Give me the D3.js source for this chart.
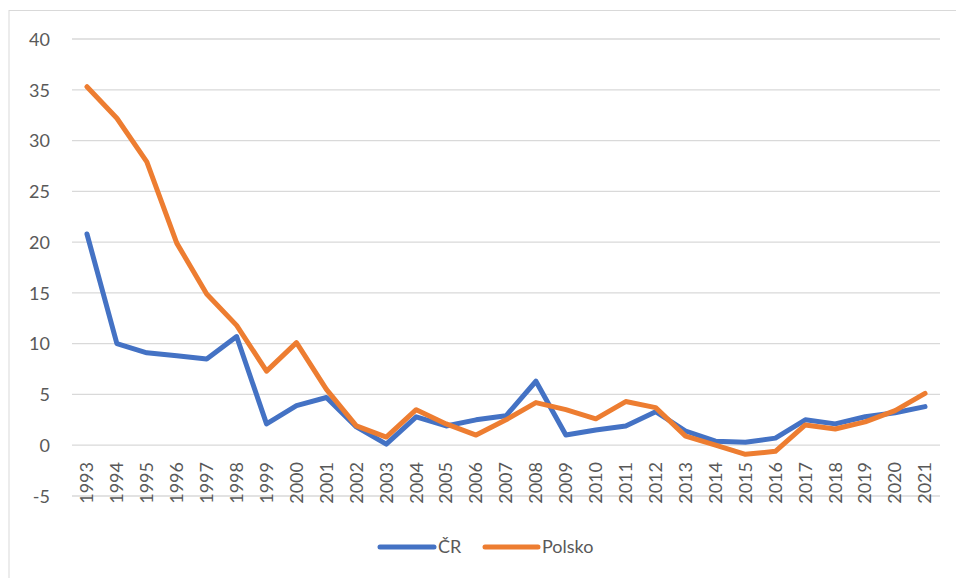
<!DOCTYPE html>
<html><head><meta charset="utf-8">
<script src="https://cdn.jsdelivr.net/npm/d3@7/dist/d3.min.js"></script>
<style>body{margin:0;background:#fff;} svg{display:block;}</style>
</head><body>
<script>
const years = ["1993","1994","1995","1996","1997","1998","1999","2000","2001","2002","2003","2004","2005","2006","2007","2008","2009","2010","2011","2012","2013","2014","2015","2016","2017","2018","2019","2020","2021"];
const cr = [20.8,10.0,9.1,8.8,8.5,10.7,2.1,3.9,4.7,1.8,0.1,2.8,1.9,2.5,2.9,6.3,1.0,1.5,1.9,3.3,1.4,0.4,0.3,0.7,2.5,2.1,2.8,3.2,3.8];
const polsko = [35.3,32.2,27.9,19.9,14.9,11.8,7.3,10.1,5.5,1.9,0.8,3.5,2.1,1.0,2.5,4.2,3.5,2.6,4.3,3.7,0.9,0.0,-0.9,-0.6,2.0,1.6,2.3,3.4,5.1];
const yTicks = [-5,0,5,10,15,20,25,30,35,40];
const seriesNames = ["ČR","Polsko"];
const colors = ["#4472C4","#ED7D31"];

const W = 956, H = 578;
const svg = d3.select("body").append("svg").attr("width", W).attr("height", H);
const font = "Lato, 'Open Sans', sans-serif";

svg.append("rect").attr("x",9).attr("y",10.5).attr("width",W).attr("height",H).attr("fill","none").attr("stroke","#d9d9d9").attr("stroke-width",1);

const x = d3.scaleBand().domain(years).range([72, 940]);
const y = d3.scaleLinear().domain([-5, 40]).range([496, 39]);

svg.append("g").selectAll("line").data(yTicks).join("line")
  .attr("x1", 72).attr("x2", 940)
  .attr("y1", d => y(d)).attr("y2", d => y(d))
  .attr("stroke", "#d9d9d9").attr("stroke-width", 1.3);

const yAxis = d3.axisLeft(y).tickValues(yTicks).tickSize(0).tickPadding(0).tickFormat(d => String(d));
const gy = svg.append("g").attr("transform","translate(50,0)").call(yAxis);
gy.select(".domain").remove();
gy.selectAll("text").attr("font-size", 18).attr("font-family", font).attr("fill","#595959").attr("dy","0.35em");

const xAxis = d3.axisBottom(x).tickSize(0).tickPadding(0);
const gx = svg.append("g").call(xAxis);
gx.select(".domain").remove();
gx.selectAll(".tick text")
  .attr("font-size", 18).attr("font-family", font).attr("fill","#595959")
  .attr("text-anchor","end")
  .attr("transform", "translate(0,462) rotate(-90)")
  .attr("x", 0).attr("y", 0).attr("dy","0.35em");

const line = d3.line().x((d,i) => x(years[i]) + x.bandwidth()/2).y(d => y(d));
[cr, polsko].forEach((s, k) => {
  svg.append("path").datum(s).attr("d", line).attr("fill","none")
    .attr("stroke", colors[k]).attr("stroke-width", 5)
    .attr("stroke-linejoin","round").attr("stroke-linecap","round");
});

const leg = [{x1:380,x2:434,tx:438},{x1:485,x2:538,tx:542}];
seriesNames.forEach((n,k) => {
  svg.append("line").attr("x1",leg[k].x1).attr("x2",leg[k].x2).attr("y1",547).attr("y2",547)
    .attr("stroke",colors[k]).attr("stroke-width",5).attr("stroke-linecap","round");
  svg.append("text").attr("x",leg[k].tx).attr("y",547).attr("dy","0.35em")
    .attr("font-size",18).attr("font-family",font).attr("fill","#595959").text(n);
});
</script>
</body></html>
